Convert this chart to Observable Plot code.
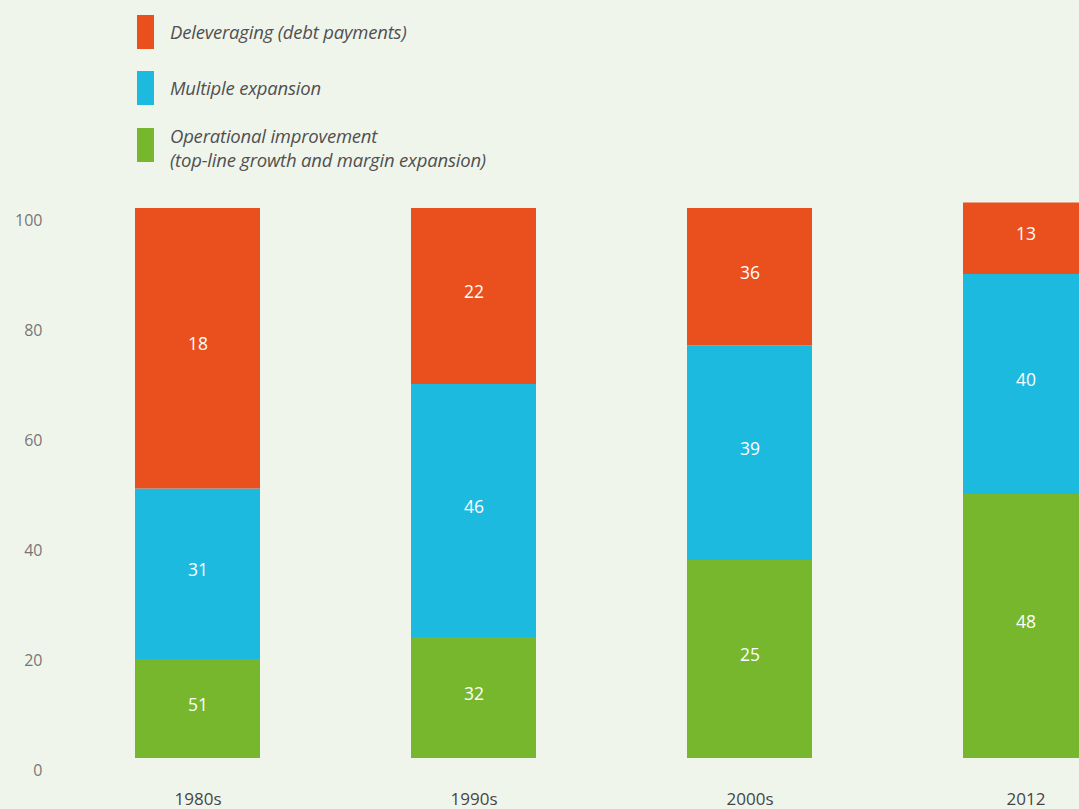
<!DOCTYPE html>
<html>
<head>
<meta charset="utf-8">
<script src="https://cdn.jsdelivr.net/npm/d3@7"></script>
<script src="https://cdn.jsdelivr.net/npm/@observablehq/plot@0.6"></script>
<style>
  html, body { margin: 0; padding: 0; background: #F0F5EC; overflow: hidden; }
  #wrap { position: relative; width: 1079px; height: 809px; font-family: "Open Sans", sans-serif; }
  #legend { position: relative; width: 1079px; height: 185px; }
  .sw { position: absolute; left: 137px; width: 17px; height: 34px; }
  .lt { position: absolute; left: 170px; font-style: italic; font-size: 18.5px; line-height: 24px; color: #505050; white-space: nowrap; letter-spacing: -0.2px; }
</style>
</head>
<body>
<div id="wrap">
  <div id="legend"></div>
  <div id="chart"></div>
</div>
<script>
// ---- data ----
const periods = ["1980s", "1990s", "2000s", "2012"];
const seriesNames = ["Operational improvement", "Multiple expansion", "Deleveraging"];
const seriesColors = ["#76B72D", "#1DBADF", "#EA4F1E"];
// segment heights as drawn
const operationalHeights = [18, 22, 36, 48];
const multipleHeights = [31, 46, 39, 40];
const deleveragingHeights = [51, 32, 25, 13];
// numbers printed inside the segments
const operationalLabels = [51, 32, 25, 48];
const multipleLabels = [31, 46, 39, 40];
const deleveragingLabels = [18, 22, 36, 13];
const yTicks = [0, 20, 40, 60, 80, 100];
const legendItems = [
  {name: "Deleveraging (debt payments)", color: "#EA4F1E"},
  {name: "Multiple expansion", color: "#1DBADF"},
  {name: "Operational improvement\n(top-line growth and margin expansion)", color: "#76B72D"}
];

// ---- legend ----
const legend = document.getElementById("legend");
const swTops = [15, 71, 128];
const txTops = [20, 76, 124];
legendItems.forEach((d, i) => {
  const s = document.createElement("div");
  s.className = "sw"; s.style.top = swTops[i] + "px"; s.style.background = d.color;
  legend.appendChild(s);
  const t = document.createElement("div");
  t.className = "lt"; t.style.top = txTops[i] + "px";
  t.innerHTML = d.name.split("\n").join("<br>");
  legend.appendChild(t);
});

// ---- table ----
const heights = [operationalHeights, multipleHeights, deleveragingHeights];
const labels = [operationalLabels, multipleLabels, deleveragingLabels];
const table = [];
periods.forEach((p, i) => {
  seriesNames.forEach((s, j) => {
    table.push({period: p, series: s, value: heights[j][i], label: labels[j][i]});
  });
});

const chart = Plot.plot({
  width: 1079,
  height: 624,
  marginTop: 23,
  marginBottom: 51,
  marginLeft: 135,
  marginRight: 0,
  style: {background: "transparent", fontFamily: "Open Sans, sans-serif", overflow: "visible"},
  x: {domain: periods, range: [135, 1089], paddingInner: 0.547, paddingOuter: 0},
  y: {domain: [0, 100]},
  color: {domain: seriesNames, range: seriesColors},
  marks: [
    Plot.barY(table, Plot.stackY({x: "period", y: "value", z: "series", fill: "series", order: seriesNames})),
    Plot.text(table, Plot.stackY({x: "period", y: "value", z: "series", text: "label", order: seriesNames,
      fill: "white", fontSize: 17.5, dy: -4})),
    Plot.axisY({ticks: yTicks, tickSize: 0, tickPadding: 93, dy: 12, fontSize: 16, color: "#777777", label: null, tickFormat: d => String(d)}),
    Plot.axisX({tickSize: 0, tickPadding: 34, fontSize: 17, color: "#454545", label: null})
  ]
});
document.getElementById("chart").appendChild(chart);
</script>
</body>
</html>
